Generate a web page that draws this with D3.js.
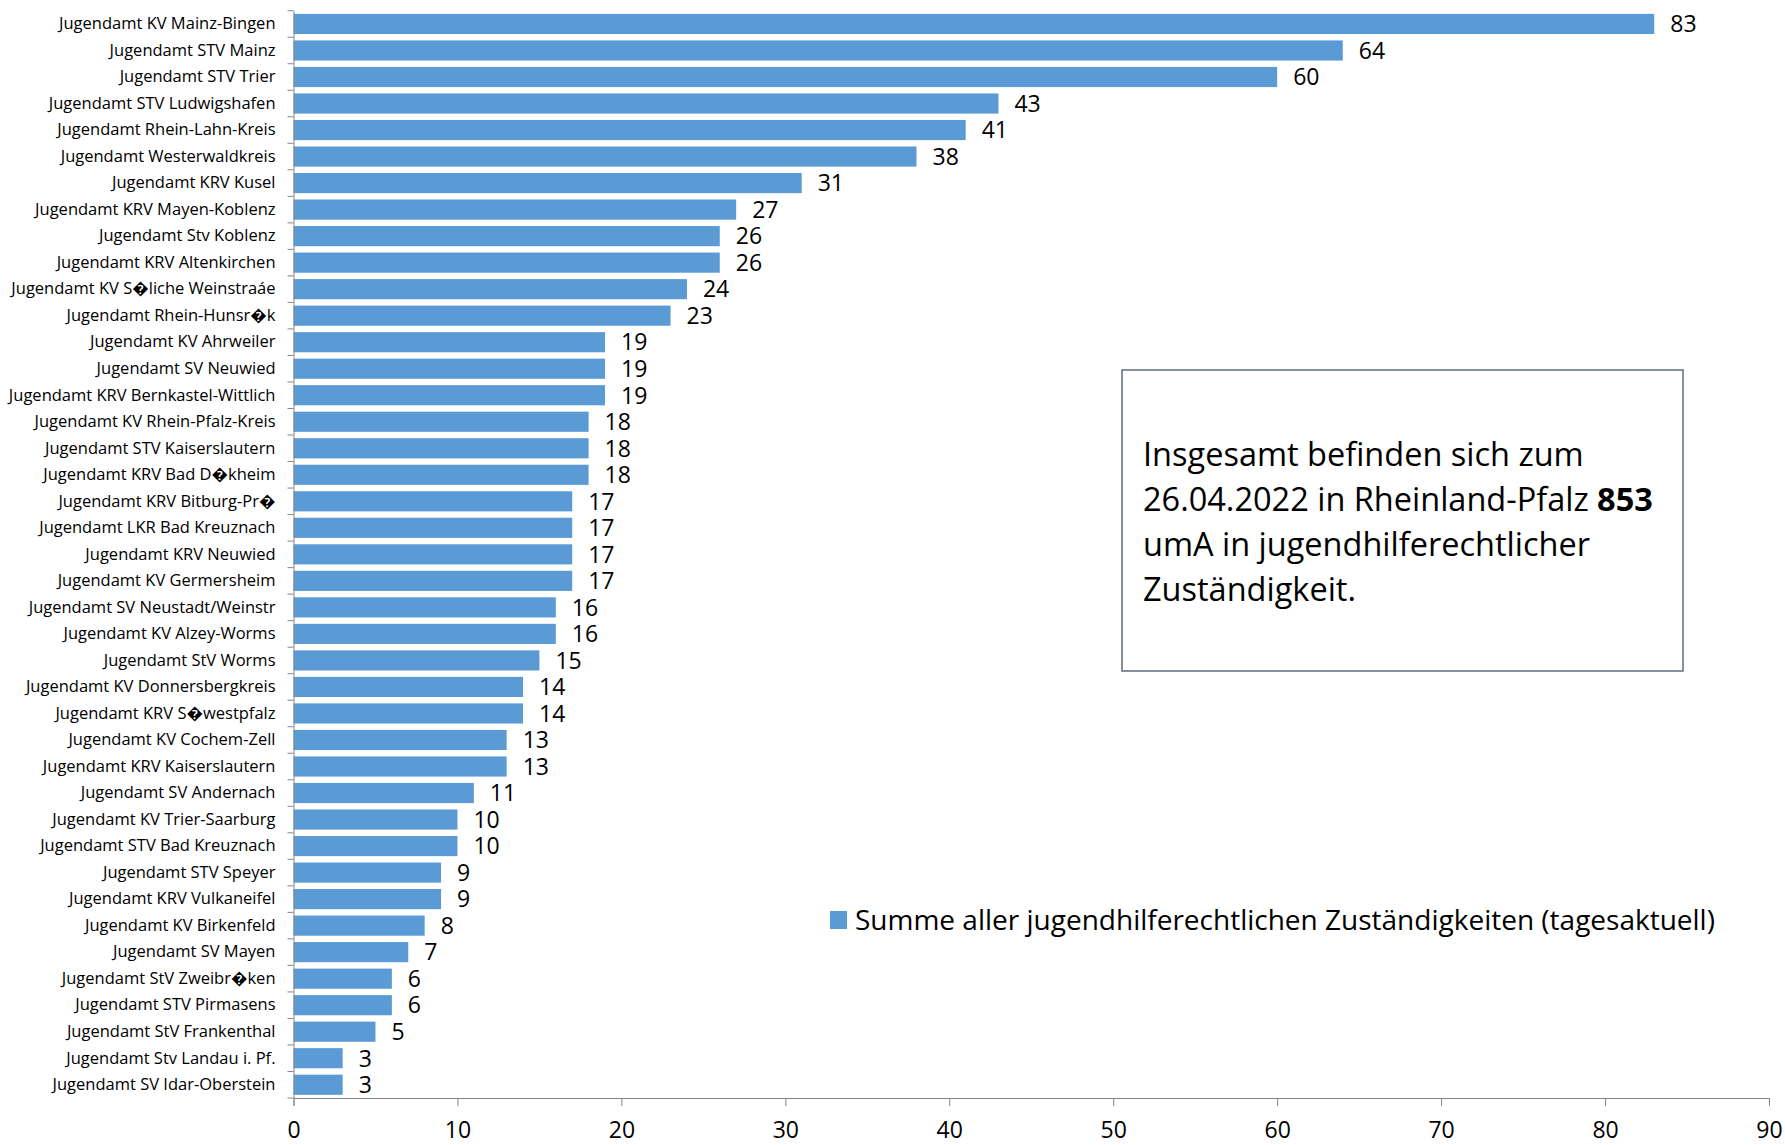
<!DOCTYPE html>
<html>
<head>
<meta charset="utf-8">
<script src="https://cdn.jsdelivr.net/npm/d3@7.9.0/dist/d3.min.js"></script>
<style>
  body { margin: 0; background: #fff; }
  svg { font-family: "Open Sans", sans-serif; }
</style>
</head>
<body>
<svg width="1785" height="1145"></svg>
<script>
// Jugendämter, top to bottom as in the chart
const categories = [
  'Jugendamt KV Mainz-Bingen', 'Jugendamt STV Mainz', 'Jugendamt STV Trier',
  'Jugendamt STV Ludwigshafen', 'Jugendamt Rhein-Lahn-Kreis', 'Jugendamt Westerwaldkreis',
  'Jugendamt KRV Kusel', 'Jugendamt KRV Mayen-Koblenz', 'Jugendamt Stv Koblenz',
  'Jugendamt KRV Altenkirchen', 'Jugendamt KV S\uFFFDliche Weinstraáe', 'Jugendamt Rhein-Hunsr\uFFFDk',
  'Jugendamt KV Ahrweiler', 'Jugendamt SV Neuwied', 'Jugendamt KRV Bernkastel-Wittlich',
  'Jugendamt KV Rhein-Pfalz-Kreis', 'Jugendamt STV Kaiserslautern', 'Jugendamt KRV Bad D\uFFFDkheim',
  'Jugendamt KRV Bitburg-Pr\uFFFD', 'Jugendamt LKR Bad Kreuznach', 'Jugendamt KRV Neuwied',
  'Jugendamt KV Germersheim', 'Jugendamt SV Neustadt/Weinstr', 'Jugendamt KV Alzey-Worms',
  'Jugendamt StV Worms', 'Jugendamt KV Donnersbergkreis', 'Jugendamt KRV S\uFFFDwestpfalz',
  'Jugendamt KV Cochem-Zell', 'Jugendamt KRV Kaiserslautern', 'Jugendamt SV Andernach',
  'Jugendamt KV Trier-Saarburg', 'Jugendamt STV Bad Kreuznach', 'Jugendamt STV Speyer',
  'Jugendamt KRV Vulkaneifel', 'Jugendamt KV Birkenfeld', 'Jugendamt SV Mayen',
  'Jugendamt StV Zweibr\uFFFDken', 'Jugendamt STV Pirmasens', 'Jugendamt StV Frankenthal',
  'Jugendamt Stv Landau i. Pf.', 'Jugendamt SV Idar-Oberstein'
];

const values = [
  83, 64, 60, 43, 41, 38, 31, 27, 26, 26, 24, 23, 19, 19, 19, 18, 18, 18, 17, 17, 17,
  17, 16, 16, 15, 14, 14, 13, 13, 11, 10, 10, 9, 9, 8, 7, 6, 6, 5, 3, 3
];

const xTicks = [0, 10, 20, 30, 40, 50, 60, 70, 80, 90];
const seriesName = 'Summe aller jugendhilferechtlichen Zuständigkeiten (tagesaktuell)';
const noteLines = [
  ['Insgesamt befinden sich zum'],
  ['26.04.2022 in Rheinland-Pfalz ', '853'],
  ['umA in jugendhilferechtlicher'],
  ['Zuständigkeit.']
];

const data = categories.map((name, i) => ({ name, value: values[i] }));

const svg = d3.select('svg');
const barColor = '#5b9bd5';
const axisColor = '#868686';

const x = d3.scaleLinear().domain([0, 90]).range([293.5, 1769]);
const y = d3.scaleBand()
  .domain(categories)
  .range([10.7, 1098])
  .paddingInner(0.24)
  .paddingOuter(0.12);

// bars
svg.append('g')
  .selectAll('rect')
  .data(data)
  .join('rect')
  .attr('x', x(0))
  .attr('y', (d) => y(d.name))
  .attr('width', (d) => x(d.value) - x(0))
  .attr('height', y.bandwidth())
  .attr('fill', barColor);

// value labels
svg.append('g')
  .selectAll('text')
  .data(data)
  .join('text')
  .attr('x', (d) => x(d.value) + 16)
  .attr('y', (d) => y(d.name) + y.bandwidth() / 2)
  .attr('dy', '0.36em')
  .attr('font-size', 23)
  .attr('fill', '#000')
  .text((d) => d.value);

// x axis
const xAxis = svg.append('g')
  .attr('transform', `translate(0,${y.range()[1]})`)
  .call(d3.axisBottom(x).tickValues(xTicks).tickSize(8).tickPadding(16));
xAxis.selectAll('text').attr('font-size', 23).attr('fill', '#000').attr('font-family', '"Open Sans", sans-serif');

// y axis: labels only, Excel-style ticks between categories
const yAxis = svg.append('g')
  .attr('transform', `translate(${x(0)},0)`)
  .call(d3.axisLeft(y).tickSize(0).tickPadding(18));
yAxis.selectAll('text').attr('font-size', 16.5).attr('fill', '#000').attr('font-family', '"Open Sans", sans-serif');

const step = y.step();
const boundaries = categories.map((c) => y(c) - step * 0.12).concat([y.range()[1]]);
svg.append('g')
  .attr('class', 'ytick')
  .selectAll('line')
  .data(boundaries)
  .join('line')
  .attr('x1', x(0) - 6)
  .attr('x2', x(0))
  .attr('y1', (d) => d)
  .attr('y2', (d) => d);

svg.selectAll('.domain, .tick line, .ytick line').attr('stroke', axisColor);

// legend
const legend = svg.append('g').attr('transform', 'translate(830,911)');
legend.append('rect').attr('width', 17).attr('height', 18).attr('fill', barColor);
legend.append('text')
  .attr('x', 25)
  .attr('y', 19)
  .attr('font-size', 28)
  .attr('fill', '#000')
  .text(seriesName);

// note box
const note = svg.append('g');
note.append('rect')
  .attr('x', 1122).attr('y', 370)
  .attr('width', 561).attr('height', 301)
  .attr('fill', '#fff')
  .attr('stroke', '#5e6d80')
  .attr('stroke-width', 1.5);

noteLines.forEach((parts, i) => {
  const t = note.append('text')
    .attr('x', 1143)
    .attr('y', 466 + i * 45)
    .attr('font-size', 32.5)
    .attr('fill', '#000');
  parts.forEach((p, j) => {
    t.append('tspan').attr('font-weight', j === 1 ? 'bold' : null).text(p);
  });
});
</script>
</body>
</html>
